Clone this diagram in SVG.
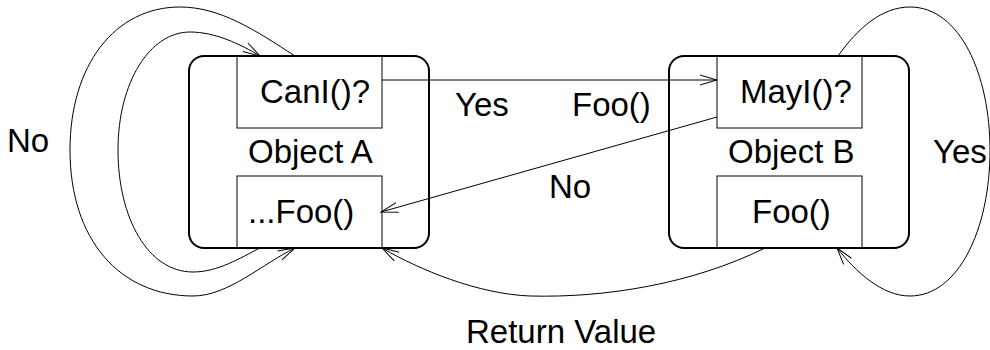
<svg xmlns="http://www.w3.org/2000/svg" width="990" height="350" viewBox="0 0 990 350">
  <defs>
    <marker id="open-arrow" markerUnits="userSpaceOnUse" markerWidth="24" markerHeight="16" viewBox="-20 -8 24 16" refX="0" refY="0" orient="auto" overflow="visible">
      <path d="M -17 -5 L 0 0 L -17 5" fill="none" stroke="#000" stroke-width="1"/>
    </marker>
  </defs>
  <style>
    text { font-family: "Liberation Sans", Arial, Helvetica, sans-serif; font-size: 33px; fill: #000; }
    .object { fill: none; stroke: #000; stroke-width: 2; }
    .method { fill: none; stroke: #000; stroke-width: 1; }
    .edge { fill: none; stroke: #000; stroke-width: 1; marker-end: url(#open-arrow); }
  </style>
  <rect width="990" height="350" fill="#fff"/>

  <!-- Object A -->
  <g id="objectA">
    <rect class="object" x="189" y="56" width="240" height="192" rx="15" ry="15"/>
    <rect class="method" x="237" y="56" width="145" height="72"/>
    <rect class="method" x="237" y="176" width="145" height="72"/>
    <text x="260" y="103">CanI()?</text>
    <text x="248" y="163">Object A</text>
    <text x="248" y="223">...Foo()</text>
  </g>

  <!-- Object B -->
  <g id="objectB">
    <rect class="object" x="669" y="56" width="240" height="192" rx="15" ry="15"/>
    <rect class="method" x="717" y="56" width="145" height="72"/>
    <rect class="method" x="717" y="176" width="145" height="72"/>
    <text x="740" y="103">MayI()?</text>
    <text x="728" y="163">Object B</text>
    <text x="752" y="223">Foo()</text>
  </g>

  <!-- Connectors -->
  <g id="connectors">
    <!-- outer "No" loop on A: top back to bottom -->
    <path class="edge" d="M 295,56 C 255,30 220,7 180,7 C 115,7 70,65 70,150 C 70,240 120,296 193,296 C 228,296 262,264 295,248"/>
    <!-- inner "No" loop on A: bottom back to top -->
    <path class="edge" d="M 260,248 C 240,258 218,272 193,272 C 148,272 118,218 118,150 C 118,82 150,32 190,32 C 215,32 240,44 260,56"/>
    <!-- CanI()? -> MayI()? -->
    <path class="edge" d="M 382,80 L 717,80"/>
    <!-- MayI()? refuses -> ...Foo() -->
    <path class="edge" d="M 717,117 L 381,212"/>
    <!-- "Yes" loop on B -->
    <path class="edge" d="M 838,56 C 858,28 882,7 910,7 C 960,7 990,75 990,150 C 990,230 958,296 910,296 C 882,296 856,272 837,248"/>
    <!-- Return value from B back to A -->
    <path class="edge" d="M 765,248 C 692,284 605,298 530,296 C 478,294 420,270 382,248"/>
  </g>

  <!-- Edge labels -->
  <g id="labels">
    <text x="7" y="152">No</text>
    <text x="455" y="116">Yes</text>
    <text x="572" y="116">Foo()</text>
    <text x="549" y="198">No</text>
    <text x="933" y="163">Yes</text>
    <text x="466" y="343">Return Value</text>
  </g>
</svg>
